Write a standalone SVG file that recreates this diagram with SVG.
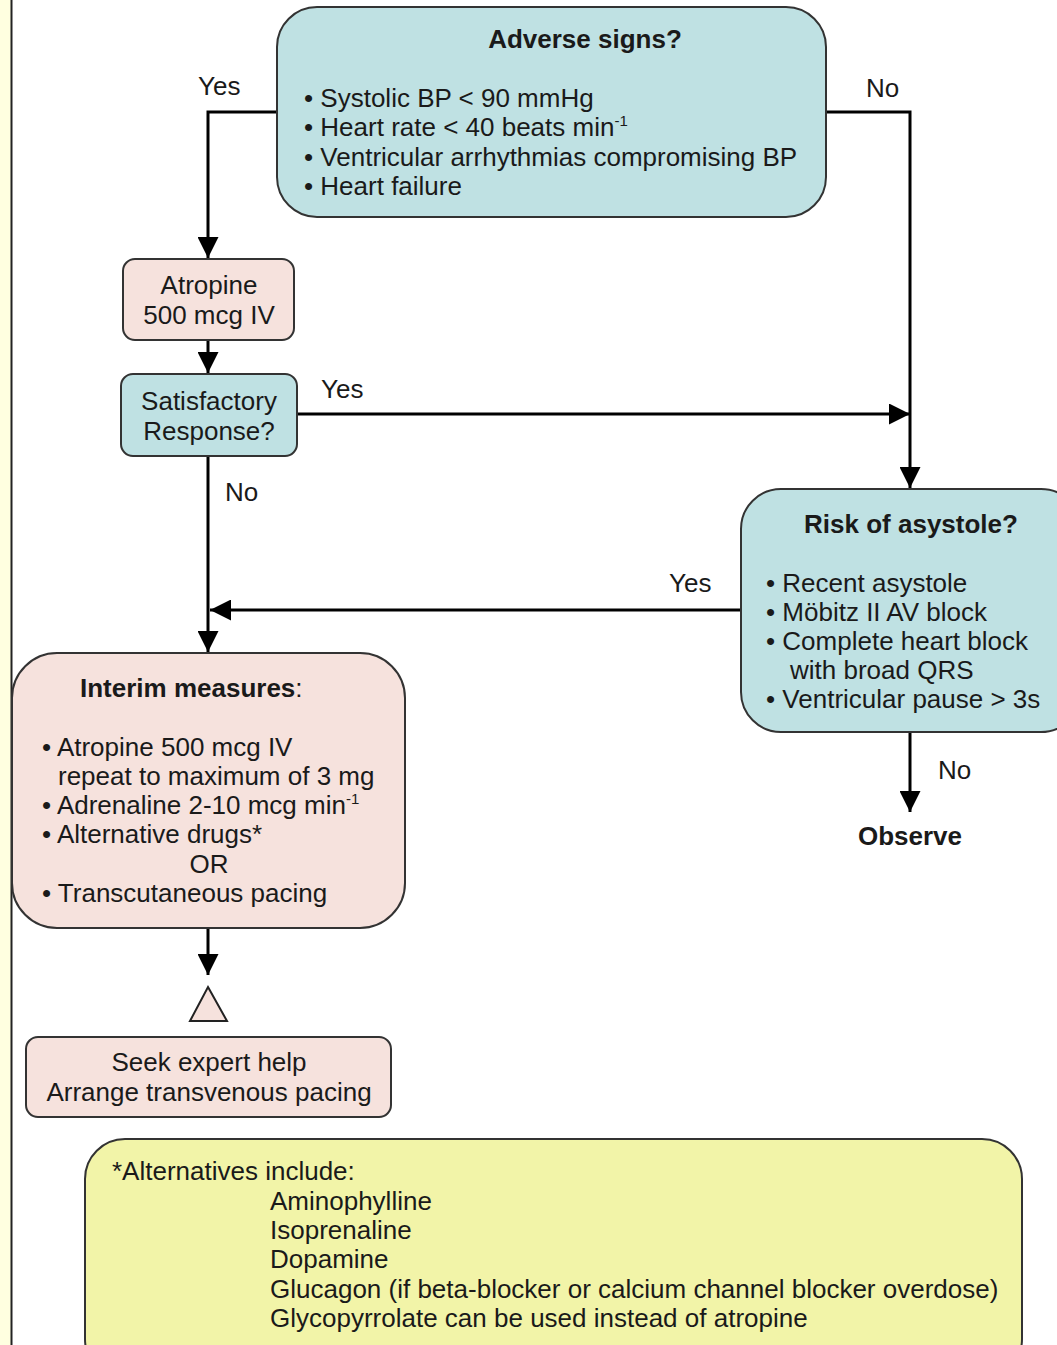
<svg xmlns="http://www.w3.org/2000/svg" width="1057" height="1345" viewBox="0 0 1057 1345">
<defs>
<style>
text{font-family:"Liberation Sans",Arial,sans-serif;font-size:26px;fill:#1a1a1a}
.b{font-weight:bold}
.c{text-anchor:middle}
.blue{fill:#bfe1e3;stroke:#333;stroke-width:2}
.pink{fill:#f6e2dd;stroke:#333;stroke-width:2}
.yel{fill:#f2f4a8;stroke:#333;stroke-width:2}
.ln{fill:none;stroke:#000;stroke-width:3}
</style>
<marker id="ah" viewBox="0 0 10 10" refX="10" refY="5" markerWidth="7" markerHeight="7" markerUnits="strokeWidth" orient="auto">
<path d="M0,0 L10,5 L0,10 Z" fill="#000"/>
</marker>
</defs>
<rect x="0" y="0" width="1057" height="1345" fill="#fff"/>
<rect x="0" y="0" width="11" height="1345" fill="#ffffe0"/>
<line x1="11.5" y1="0" x2="11.5" y2="1345" stroke="#222" stroke-width="2"/>

<g id="connectors">
<polyline class="ln" points="277,112 208,112 208,258" marker-end="url(#ah)"/>
<polyline class="ln" points="826,112 910,112 910,488" marker-end="url(#ah)"/>
<line class="ln" x1="208" y1="340" x2="208" y2="373" marker-end="url(#ah)"/>
<line class="ln" x1="297" y1="414" x2="910" y2="414" marker-end="url(#ah)"/>
<line class="ln" x1="208" y1="456" x2="208" y2="652" marker-end="url(#ah)"/>
<line class="ln" x1="741" y1="610" x2="210" y2="610" marker-end="url(#ah)"/>
<line class="ln" x1="910" y1="732" x2="910" y2="812" marker-end="url(#ah)"/>
<line class="ln" x1="208" y1="928" x2="208" y2="975" marker-end="url(#ah)"/>
<text x="198" y="95">Yes</text>
<text x="866" y="97">No</text>
<text x="321" y="398">Yes</text>
<text x="225" y="501">No</text>
<text x="669" y="592">Yes</text>
<text x="938" y="779">No</text>
</g>

<g id="adverse">
<rect class="blue" x="277" y="7" width="549" height="210" rx="40"/>
<text class="b c" x="585" y="48">Adverse signs?</text>
<text x="304" y="107">• Systolic BP &lt; 90 mmHg</text>
<text x="304" y="136">• Heart rate &lt; 40 beats min<tspan dy="-10" font-size="15">-1</tspan></text>
<text x="304" y="166">• Ventricular arrhythmias compromising BP</text>
<text x="304" y="195">• Heart failure</text>
</g>

<g id="atropine">
<rect class="pink" x="123" y="259" width="171" height="81" rx="12"/>
<text class="c" x="209" y="294">Atropine</text>
<text class="c" x="209" y="324">500 mcg IV</text>
</g>

<g id="satisfactory">
<rect class="blue" x="121" y="374" width="176" height="82" rx="12"/>
<text class="c" x="209" y="410">Satisfactory</text>
<text class="c" x="209" y="440">Response?</text>
</g>

<g id="risk">
<rect class="blue" x="741" y="489" width="340" height="243" rx="40"/>
<text class="b c" x="911" y="533">Risk of asystole?</text>
<text x="766" y="592">• Recent asystole</text>
<text x="766" y="621">• Möbitz II AV block</text>
<text x="766" y="650">• Complete heart block</text>
<text x="790" y="679">with broad QRS</text>
<text x="766" y="708">• Ventricular pause &gt; 3s</text>
</g>

<g id="observe">
<text class="b c" x="910" y="845">Observe</text>
</g>

<g id="interim">
<rect class="pink" x="12" y="653" width="393" height="275" rx="45"/>
<text x="80" y="697"><tspan class="b">Interim measures</tspan>:</text>
<text x="42" y="756">• Atropine 500 mcg IV</text>
<text x="58" y="785">repeat to maximum of 3 mg</text>
<text x="42" y="814">• Adrenaline 2-10 mcg min<tspan dy="-10" font-size="15">-1</tspan></text>
<text x="42" y="843">• Alternative drugs*</text>
<text class="c" x="209" y="873">OR</text>
<text x="42" y="902">• Transcutaneous pacing</text>
</g>

<g id="triangle">
<polygon points="208,987 227,1021 190,1021" fill="#f6e2dd" stroke="#222" stroke-width="2"/>
</g>

<g id="seek">
<rect class="pink" x="26" y="1037" width="365" height="80" rx="12"/>
<text class="c" x="209" y="1071">Seek expert help</text>
<text class="c" x="209" y="1101">Arrange transvenous pacing</text>
</g>

<g id="alternatives">
<rect class="yel" x="85" y="1139" width="937" height="240" rx="40"/>
<text x="112" y="1180">*Alternatives include:</text>
<text x="270" y="1210">Aminophylline</text>
<text x="270" y="1239">Isoprenaline</text>
<text x="270" y="1268">Dopamine</text>
<text x="270" y="1298">Glucagon (if beta-blocker or calcium channel blocker overdose)</text>
<text x="270" y="1327">Glycopyrrolate can be used instead of atropine</text>
</g>
</svg>
